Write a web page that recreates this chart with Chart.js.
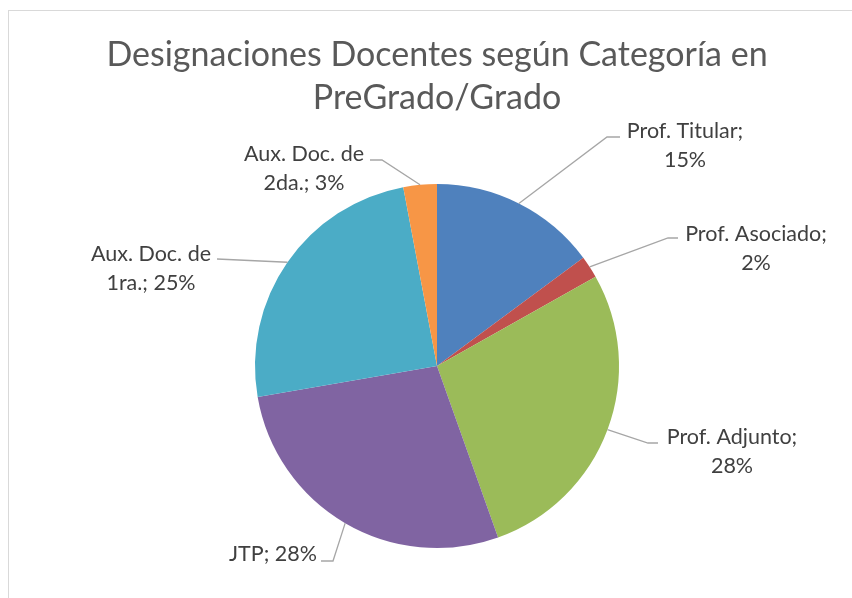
<!DOCTYPE html>
<html>
<head>
<meta charset="utf-8">
<script src="https://cdn.jsdelivr.net/npm/chart.js@4"></script>
<style>
  html, body { margin: 0; padding: 0; background: #fff; overflow: hidden; }
</style>
</head>
<body>
<canvas id="pieChart" width="852" height="598"></canvas>
<script>
// data (percent of designations per category)
const categories = ['Prof. Titular', 'Prof. Asociado', 'Prof. Adjunto', 'JTP', 'Aux. Doc. de 1ra.', 'Aux. Doc. de 2da.'];
const shares = [15, 2, 28, 28, 25, 3];
const sliceColors = ['#4F81BD', '#C0504D', '#9BBB59', '#8064A2', '#4BACC6', '#F79646'];
const titleLines = ['Designaciones Docentes según Categoría en', 'PreGrado/Grado'];

// where each data label sits, relative to the pie centre (elbow, end of leader, text)
const labelLayout = [
    { elbow: [170, -229], end: [183, -229], textX: 248, base: -228, brk: '; ' },
    { elbow: [231, -128], end: [241, -128], textX: 319, base: -125, brk: '; ' },
    { elbow: [211, 77], end: [221, 77], textX: 295, base: 78, brk: '; ' },
    { elbow: [-104, 195], end: [-116, 195], textX: -164, base: 195, brk: null },
    { elbow: null, end: [-220, -107], textX: -286, base: -105, brk: 'de ' },
    { elbow: [-55, -206], end: [-67, -206], textX: -133, base: -205, brk: 'de ' }
];

const total = shares.reduce((a, b) => a + b, 0);

const labelPlugin = {
    id: 'excelLabels',
    beforeDraw(chart) {
        const ctx = chart.ctx;
        ctx.save();
        ctx.fillStyle = '#fff';
        ctx.fillRect(0, 0, chart.width, chart.height);
        // chart frame (only top/left edges visible)
        ctx.strokeStyle = '#d9d9d9';
        ctx.lineWidth = 1;
        ctx.strokeRect(8.5, 10.5, 1000, 800);
        ctx.restore();
    },
    afterDraw(chart) {
        const ctx = chart.ctx;
        ctx.save();
        // title
        ctx.fillStyle = '#595959';
        ctx.font = '34px Lato';
        ctx.textAlign = 'center';
        ctx.textBaseline = 'alphabetic';
        ctx.fillText(titleLines[0], 437, 66);
        ctx.fillText(titleLines[1], 437, 109);

        const arcs = chart.getDatasetMeta(0).data;
        arcs.forEach((arc, i) => {
            const lay = labelLayout[i];
            const cx = arc.x, cy = arc.y;
            const mid = (arc.startAngle + arc.endAngle) / 2;
            const r = arc.outerRadius;
            const sx = cx + Math.cos(mid) * r, sy = cy + Math.sin(mid) * r;

            // leader line
            ctx.strokeStyle = '#a6a6a6';
            ctx.lineWidth = 1.3;
            ctx.beginPath();
            ctx.moveTo(sx, sy);
            if (lay.elbow) ctx.lineTo(cx + lay.elbow[0], cy + lay.elbow[1]);
            ctx.lineTo(cx + lay.end[0], cy + lay.end[1]);
            ctx.stroke();

            // label text
            const pct = Math.round(shares[i] / total * 100);
            const text = categories[i] + '; ' + pct + '%';
            let lines = [text];
            if (lay.brk) {
                const k = text.indexOf(lay.brk) + lay.brk.length;
                lines = [text.slice(0, k).trim(), text.slice(k)];
            }
            ctx.fillStyle = '#404040';
            ctx.font = '21.5px Lato';
            ctx.textAlign = 'center';
            lines.forEach((ln, j) => {
                ctx.fillText(ln, cx + lay.textX, cy + lay.base + j * 29);
            });
        });
        ctx.restore();
    }
};

new Chart(document.getElementById('pieChart'), {
    type: 'pie',
    data: {
        labels: categories,
        datasets: [{
            data: shares,
            backgroundColor: sliceColors,
            borderWidth: 0
        }]
    },
    options: {
        responsive: false,
        animation: false,
        devicePixelRatio: 1,
        layout: { padding: { left: 255, right: 233, top: 184, bottom: 50 } },
        plugins: {
            legend: { display: false },
            tooltip: { enabled: false },
            title: { display: false }
        }
    },
    plugins: [labelPlugin]
});
</script>
</body>
</html>
